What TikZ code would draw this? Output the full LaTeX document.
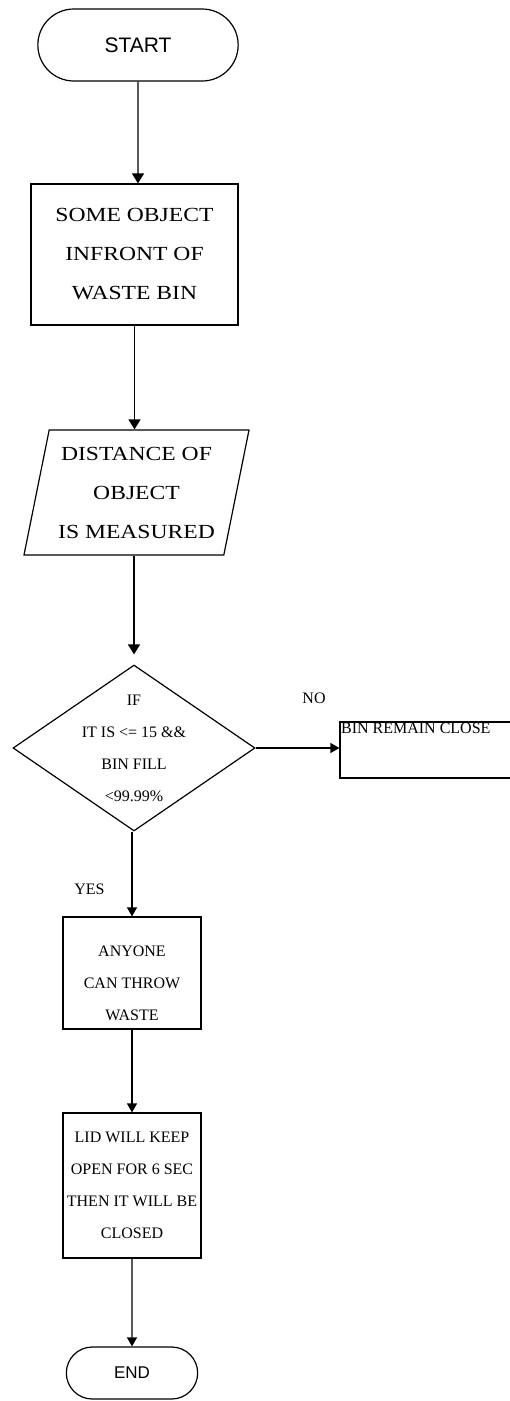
\documentclass[tikz,border=0pt]{standalone}
\usepackage{fontspec}
\setmainfont{Liberation Serif}
\setsansfont{Liberation Sans}
\newfontfamily\wideserif[FakeStretch=1.18]{Liberation Serif}
\usetikzlibrary{shapes.geometric,shapes.misc,arrows.meta}

\begin{document}
\begin{tikzpicture}[x=1pt, y=-1pt, very thick, >={Triangle[length=9pt,width=10pt]},
        term/.style = {draw, rounded rectangle, font=\sffamily\fontsize{21}{24}\selectfont},
        box/.style = {draw, rectangle, align=center, inner sep=2pt},
        io/.style = {draw, trapezium, trapezium left angle=75.6, trapezium right angle=104.4, trapezium stretches body, align=center},
        decision/.style = {draw, diamond},
        bigtext/.style = {font=\wideserif\fontsize{20}{39}\selectfont},
        smalltext/.style = {font=\fontsize{16}{32}\selectfont, align=center},
        bigtip/.style = {-{Triangle[length=10pt,width=12pt]}, line width=1.4pt}]
        \useasboundingbox (0,0) rectangle (510,1401);
        \node[term, minimum width=207, minimum height=72] (start) at (138,45) {START};
        \node[box, bigtext, minimum width=207, minimum height=141] (obj) at (134.5,254.5) {SOME OBJECT\\INFRONT OF\\WASTE BIN};
        \node[io, bigtext, minimum width=225, minimum height=125] (dist) at (136.5,492.5) {DISTANCE OF\\OBJECT\\IS MEASURED};
        \node[decision, minimum width=242, minimum height=166] (cond) at (134,748) {};
        \node[smalltext] (condtxt) at (cond) {IF\\IT IS <= 15 \&\&\\BIN FILL\\<99.99\%};
        \node[smalltext] (no) at (314,698) {NO};
        \node[draw, minimum width=190, minimum height=56, inner sep=0] (close) at (435,750) {};
        \node[smalltext, anchor=base west, inner sep=0] (closetxt) at (340.5,733.5) {BIN REMAIN CLOSE};
        \node[smalltext] (yes) at (89.5,889) {YES};
        \node[box, minimum width=138, minimum height=112] (throw) at (132,973) {};
        \node[smalltext] (throwtxt) at (132,983) {ANYONE\\CAN THROW\\WASTE};
        \node[box, smalltext, minimum width=138, minimum height=145] (lid) at (132,1185.5) {LID WILL KEEP\\OPEN FOR 6 SEC\\THEN IT WILL BE\\CLOSED};
        \node[term, font=\sffamily\fontsize{17}{20}\selectfont, minimum width=138, minimum height=52] (end) at (132,1373) {END};
        \draw[bigtip] (start) -- (start |- obj.north);
        \draw[bigtip] (obj) -- (obj |- dist.north);
        \draw[bigtip, shorten >=10pt] (cond |- dist.south) -- (cond.north);
        \draw[->] (cond.east) -- (close.west |- cond.east);
        \draw[->] (throw |- cond.south) -- (throw.north);
        \draw[->] (throw) -- (lid);
        \draw[->] (lid) -- (end);
\end{tikzpicture}
\end{document}
